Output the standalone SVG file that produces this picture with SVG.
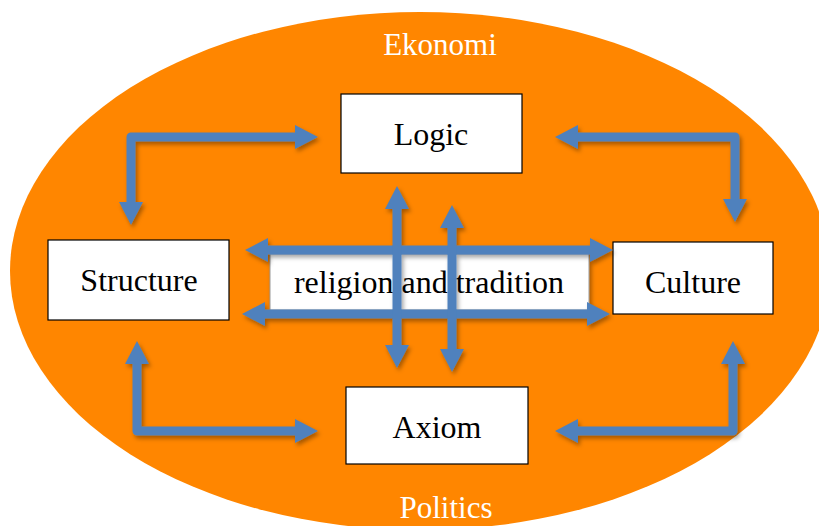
<svg xmlns="http://www.w3.org/2000/svg" width="819" height="526" viewBox="0 0 819 526">
  <style>
    .box { fill: #FFFFFF; stroke: #000000; stroke-width: 1.2; }
    .inner { fill: #FFFFFF; stroke: #9a9a9a; stroke-width: 1; }
    .lbl { font-family: "Liberation Serif", "Times New Roman", serif; font-size: 32px; fill: #000000; text-anchor: middle; }
    .ring { font-family: "Liberation Serif", "Times New Roman", serif; font-size: 31px; fill: #FFFFFF; text-anchor: middle; }
    .conn { fill: none; stroke: #4F81BD; stroke-width: 9; stroke-linejoin: round; marker-start: url(#head); marker-end: url(#head); }
  </style>
  <defs>
    <marker id="head" markerUnits="userSpaceOnUse" markerWidth="24" markerHeight="26" refX="0" refY="12" orient="auto-start-reverse">
      <path d="M0,0 L23,12 L0,24 Z" fill="#4F81BD"/>
    </marker>
    <filter id="shadow" x="-10%" y="-10%" width="130%" height="130%">
      <feDropShadow dx="2" dy="3" stdDeviation="2" flood-color="#000000" flood-opacity="0.35"/>
    </filter>
  </defs>

  <g id="background">
    <ellipse cx="420" cy="271" rx="410" ry="259" fill="#FF8600"/>
    <text class="ring" x="440" y="55">Ekonomi</text>
    <text class="ring" x="446" y="518">Politics</text>
  </g>

  <g id="logic">
    <rect class="box" x="341" y="94" width="181" height="79"/>
    <text class="lbl" x="431" y="145">Logic</text>
  </g>
  <g id="structure">
    <rect class="box" x="48" y="240" width="181" height="80"/>
    <text class="lbl" x="139" y="291">Structure</text>
  </g>
  <g id="culture">
    <rect class="box" x="613" y="242" width="160" height="72"/>
    <text class="lbl" x="693" y="293">Culture</text>
  </g>
  <g id="axiom">
    <rect class="box" x="346" y="387" width="182" height="77"/>
    <text class="lbl" x="437" y="438">Axiom</text>
  </g>
  <g id="religion">
    <rect class="inner" x="270" y="254" width="319" height="56" filter="url(#shadow)"/>
    <text class="lbl" x="429" y="293">religion and tradition</text>
  </g>

  <g id="connectors" filter="url(#shadow)">
    <path class="conn" d="M295,137 L131,137 L131,202"/>
    <path class="conn" d="M578,137 L735,137 L735,199"/>
    <path class="conn" d="M137,364 L137,431 L295,431"/>
    <path class="conn" d="M733,364 L733,431 L578,431"/>
    <path class="conn" d="M268,250 L590,250"/>
    <path class="conn" d="M265,314 L587,314"/>
    <path class="conn" d="M397,209 L397,345"/>
    <path class="conn" d="M452,228 L452,349"/>
  </g>
</svg>
